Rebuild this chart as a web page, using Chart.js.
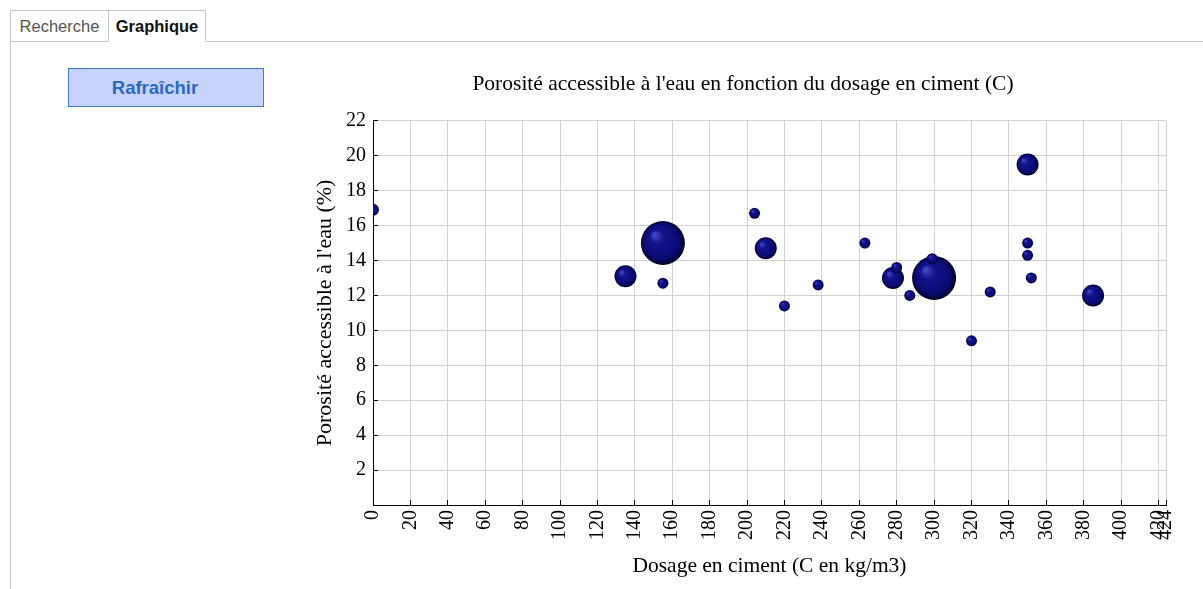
<!DOCTYPE html>
<html lang="fr">
<head>
<meta charset="utf-8">
<script src="https://cdn.jsdelivr.net/npm/chart.js@4/dist/chart.umd.min.js"></script>
<style>
  html, body { margin: 0; padding: 0; background: #fff; width: 1203px; height: 589px; overflow: hidden; font-family: "Liberation Sans", Arial, sans-serif; }
  .tab { position: absolute; top: 10px; height: 30px; border: 1px solid #c6c6c6; background: #fff; font-size: 16.5px; line-height: 30px; text-align: center; box-sizing: content-box; }
  #tab1 { left: 10px; width: 97px; color: #555; }
  #tab2 { left: 108px; width: 96px; color: #111; font-weight: bold; border-bottom: 1px solid #fff; z-index: 2; }
  #hline { position: absolute; left: 10px; top: 41px; width: 1193px; height: 1px; background: #c6c6c6; }
  #vline { position: absolute; left: 10px; top: 41px; width: 1px; height: 548px; background: #c6c6c6; }
  #btn { position: absolute; left: 68px; top: 68px; width: 172px; padding-right: 22px; height: 37px; border: 1px solid #3f7bcf; background: #c8d3fd; color: #2a69bf; font-weight: bold; font-size: 18.5px; line-height: 37px; text-align: center; }
  #wrap { position: absolute; left: 290px; top: 55px; width: 920px; height: 534px; }
</style>
</head>
<body>
<div class="tab" id="tab1">Recherche</div>
<div class="tab" id="tab2">Graphique</div>
<div id="hline"></div>
<div id="vline"></div>
<div id="btn">Rafraîchir</div>
<div id="wrap"><canvas id="c" width="920" height="534"></canvas></div>
<script>
// ---- data ----
const chartTitle = "Porosité accessible à l'eau en fonction du dosage en ciment (C)";
const xAxisTitle = "Dosage en ciment (C en kg/m3)";
const yAxisTitle = "Porosité accessible à l'eau (%)";
const cementDosage = [0, 135, 155, 155, 204, 210, 220, 238, 263, 278, 280, 287, 300, 299, 330, 320, 350, 350, 350, 352, 385];
const porosity     = [16.9, 13.1, 15.0, 12.7, 16.7, 14.7, 11.4, 12.6, 15.0, 13.0, 13.6, 12.0, 13.0, 14.1, 12.2, 9.4, 19.5, 15.0, 14.3, 13.0, 12.0];
const bubbleSize   = [6, 11, 22, 5.5, 5.5, 11, 5.5, 5.5, 5.5, 11, 5.5, 5.5, 22, 5.5, 5.5, 5.5, 11, 5.5, 5.5, 5.5, 11];
const xTickValues = [0, 20, 40, 60, 80, 100, 120, 140, 160, 180, 200, 220, 240, 260, 280, 300, 320, 340, 360, 380, 400, 420, 424];
const yTickValues = [0, 2, 4, 6, 8, 10, 12, 14, 16, 18, 20, 22];

const points = cementDosage.map((x, i) => ({ x: x, y: porosity[i], r: bubbleSize[i] }));

function sphereFill(ctx) {
  const chart = ctx.chart;
  const raw = ctx.raw;
  const xs = chart.scales.x, ys = chart.scales.y;
  if (!raw || !xs || !ys) return '#0a0a78';
  const cx = xs.getPixelForValue(raw.x);
  const cy = ys.getPixelForValue(raw.y);
  const r = raw.r;
  if (!isFinite(cx) || !isFinite(cy)) return '#0a0a78';
  const g = chart.ctx.createRadialGradient(cx - r * 0.4, cy - r * 0.4, r * 0.02, cx, cy, r);
  g.addColorStop(0, '#4a4ac8');
  g.addColorStop(0.3, '#14148c');
  g.addColorStop(0.8, '#0a0a72');
  g.addColorStop(1, '#00001c');
  return g;
}

const serif = "'Liberation Serif', 'Times New Roman', serif";

new Chart(document.getElementById('c'), {
  type: 'bubble',
  data: {
    datasets: [{
      data: points,
      backgroundColor: sphereFill,
      hoverBackgroundColor: sphereFill,
      borderWidth: 0,
      hoverBorderWidth: 0,
      hoverRadius: 0,
      clip: 0
    }]
  },
  options: {
    responsive: false,
    animation: false,
    events: [],
    layout: { padding: { left: 30, right: 44, top: 0, bottom: 0 } },
    plugins: {
      legend: { display: false },
      tooltip: { enabled: false },
      title: {
        display: true,
        text: chartTitle,
        color: '#000',
        font: { family: serif, size: 21.5, weight: 'normal', lineHeight: 1.2 },
        padding: { top: 16, bottom: 24 }
      }
    },
    scales: {
      x: {
        type: 'linear',
        min: 0, max: 424,
        afterBuildTicks: (s) => { s.ticks = xTickValues.map(v => ({ value: v })); },
        afterFit: (s) => { s.height = 84; },
        ticks: {
          autoSkip: false,
          minRotation: 90, maxRotation: 90,
          padding: 10,
          color: '#000',
          font: { family: serif, size: 20 },
          callback: (v) => String(v)
        },
        grid: { color: '#d2d2d2', lineWidth: 1, tickColor: '#000', tickLength: -5 },
        border: { color: '#000', width: 1 },
        title: {
          display: true, text: xAxisTitle, color: '#000',
          font: { family: serif, size: 21.5, lineHeight: 1.2 },
          padding: { top: 0, bottom: 10 }
        }
      },
      y: {
        type: 'linear',
        min: 0, max: 22,
        afterBuildTicks: (s) => { s.ticks = yTickValues.map(v => ({ value: v })); },
        afterFit: (s) => { s.width = 53; },
        ticks: {
          padding: 12,
          color: '#000',
          font: { family: serif, size: 20 },
          callback: (v) => (v === 0 ? '' : String(v))
        },
        grid: { color: '#d2d2d2', lineWidth: 1, tickColor: '#000', tickLength: -5 },
        border: { color: '#000', width: 1 },
        title: {
          display: true, text: yAxisTitle, color: '#000',
          font: { family: serif, size: 22, lineHeight: 1.2 },
          padding: { top: -8, bottom: 0 }
        }
      }
    }
  }
});
</script>
</body>
</html>
